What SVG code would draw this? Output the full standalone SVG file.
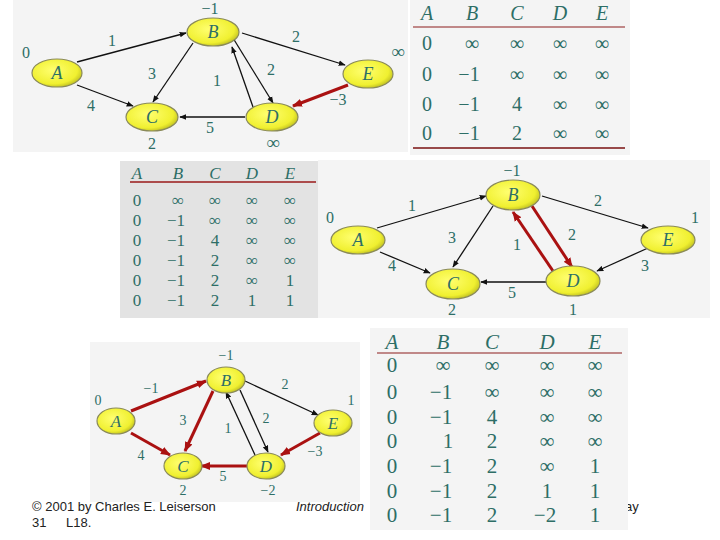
<svg xmlns="http://www.w3.org/2000/svg" width="720" height="540" viewBox="0 0 720 540">
<defs>
<radialGradient id="ng" cx="0.42" cy="0.4" r="0.65">
<stop offset="0" stop-color="#ffff70"/>
<stop offset="0.75" stop-color="#f0f030"/>
<stop offset="1" stop-color="#b8b820"/>
</radialGradient>
<marker id="ab" viewBox="0 0 10 10" refX="9" refY="5" markerWidth="7" markerHeight="7" orient="auto" markerUnits="userSpaceOnUse"><path d="M0,1 L10,5 L0,9 Z" fill="#111"/></marker>
<marker id="ar" viewBox="0 0 10 10" refX="9" refY="5" markerWidth="10" markerHeight="10" orient="auto" markerUnits="userSpaceOnUse"><path d="M0,1 L10,5 L0,9 Z" fill="#aa1111"/></marker>
</defs>
<style>
.bg{fill:#f4f4f4}
.bgd{fill:#e3e3e3}
.nd{fill:url(#ng);stroke:#8a8a5a;stroke-width:1.2}
.nl{font-family:"Liberation Serif",serif;font-style:italic;fill:#2d6e66;text-anchor:middle}
.el{font-family:"Liberation Serif",serif;fill:#2d6e66;text-anchor:middle}
.th{font-family:"Liberation Serif",serif;font-style:italic;fill:#2d6e66;text-anchor:middle}
.td{font-family:"Liberation Serif",serif;fill:#2d6e66;text-anchor:middle}
.k{stroke:#111;stroke-width:1.3;fill:none;marker-end:url(#ab)}
.r{stroke:#aa1111;stroke-width:3;fill:none;marker-end:url(#ar)}
.ft{font-family:"Liberation Sans",sans-serif;font-size:13px;fill:#222}
</style>

<g id="footer">
<text class="ft" x="32" y="511">© 2001 by Charles E. Leiserson</text>
<text class="ft" x="32" y="527">31</text>
<text class="ft" x="66" y="527">L18.</text>
<text class="ft" x="296" y="511" font-style="italic">Introduction</text>
<text class="ft" x="625" y="511">ay</text>
</g>

<!-- Top-left graph -->
<g id="graph1">
<rect class="bg" x="13" y="0" width="395" height="152"/>
<g id="g1-edges">
<line class="k" x1="77" y1="62" x2="186" y2="33"/>
<line class="k" x1="77" y1="85" x2="133" y2="106"/>
<line class="k" x1="193" y1="43" x2="153" y2="102"/>
<line class="k" x1="253" y1="107" x2="232" y2="47"/>
<line class="k" x1="233" y1="38" x2="273" y2="103"/>
<line class="k" x1="242" y1="33" x2="345" y2="65"/>
<line class="k" x1="245" y1="117" x2="180" y2="117"/>
<line class="r" x1="348" y1="85" x2="293" y2="106"/>
</g>
<g id="g1-A"><ellipse class="nd" cx="57" cy="73" rx="25" ry="14"/><text class="nl" x="57" y="79" font-size="18">A</text></g>
<g id="g1-B"><ellipse class="nd" cx="213" cy="32" rx="26" ry="14"/><text class="nl" x="213" y="38" font-size="18">B</text></g>
<g id="g1-C"><ellipse class="nd" cx="152" cy="117" rx="26" ry="14"/><text class="nl" x="152" y="123" font-size="18">C</text></g>
<g id="g1-D"><ellipse class="nd" cx="272" cy="117" rx="26" ry="14"/><text class="nl" x="272" y="123" font-size="18">D</text></g>
<g id="g1-E"><ellipse class="nd" cx="368" cy="74" rx="25" ry="14"/><text class="nl" x="368" y="80" font-size="18">E</text></g>
<g font-size="16">
<text class="el" x="26" y="58">0</text>
<text class="el" x="210" y="14">−1</text>
<text class="el" x="398" y="58" font-size="19">∞</text>
<text class="el" x="152" y="149">2</text>
<text class="el" x="273" y="149" font-size="19">∞</text>
<text class="el" x="112" y="46">1</text>
<text class="el" x="296" y="42">2</text>
<text class="el" x="152" y="79">3</text>
<text class="el" x="217" y="86">1</text>
<text class="el" x="271" y="75">2</text>
<text class="el" x="91" y="111">4</text>
<text class="el" x="210" y="133">5</text>
<text class="el" x="338" y="105">−3</text>
</g>
</g>

<!-- Top-right table -->
<g id="table1">
<rect class="bg" x="410" y="0" width="220" height="155"/>
<g font-size="20">
<text class="th" x="427" y="20">A</text><text class="th" x="472" y="20">B</text><text class="th" x="517" y="20">C</text><text class="th" x="560" y="20">D</text><text class="th" x="602" y="20">E</text>
</g>
<line x1="413" y1="27" x2="625" y2="27" stroke="#c08888" stroke-width="2"/>
<g font-size="20">
<text class="td" x="427" y="50">0</text><text class="td" x="472" y="50">∞</text><text class="td" x="517" y="50">∞</text><text class="td" x="560" y="50">∞</text><text class="td" x="602" y="50">∞</text>
<text class="td" x="427" y="81">0</text><text class="td" x="469" y="81">−1</text><text class="td" x="517" y="81">∞</text><text class="td" x="560" y="81">∞</text><text class="td" x="602" y="81">∞</text>
<text class="td" x="427" y="111">0</text><text class="td" x="469" y="111">−1</text><text class="td" x="517" y="111">4</text><text class="td" x="560" y="111">∞</text><text class="td" x="602" y="111">∞</text>
<text class="td" x="427" y="140">0</text><text class="td" x="469" y="140">−1</text><text class="td" x="517" y="140">2</text><text class="td" x="560" y="140">∞</text><text class="td" x="602" y="140">∞</text>
</g>
<line x1="413" y1="148" x2="625" y2="148" stroke="#7a1010" stroke-width="1.5"/>
</g>

<!-- Middle-left table -->
<g id="table2">
<rect class="bgd" x="120" y="161" width="198" height="157"/>
<g font-size="17">
<text class="th" x="137" y="179">A</text><text class="th" x="178" y="179">B</text><text class="th" x="215" y="179">C</text><text class="th" x="252" y="179">D</text><text class="th" x="290" y="179">E</text>
</g>
<line x1="130" y1="182" x2="316" y2="182" stroke="#9a1a1a" stroke-width="1.5"/>
<g font-size="17">
<text class="td" x="137" y="206">0</text><text class="td" x="178" y="206">∞</text><text class="td" x="215" y="206">∞</text><text class="td" x="252" y="206">∞</text><text class="td" x="290" y="206">∞</text>
<text class="td" x="137" y="226">0</text><text class="td" x="176" y="226">−1</text><text class="td" x="215" y="226">∞</text><text class="td" x="252" y="226">∞</text><text class="td" x="290" y="226">∞</text>
<text class="td" x="137" y="246">0</text><text class="td" x="176" y="246">−1</text><text class="td" x="215" y="246">4</text><text class="td" x="252" y="246">∞</text><text class="td" x="290" y="246">∞</text>
<text class="td" x="137" y="266">0</text><text class="td" x="176" y="266">−1</text><text class="td" x="215" y="266">2</text><text class="td" x="252" y="266">∞</text><text class="td" x="290" y="266">∞</text>
<text class="td" x="137" y="286">0</text><text class="td" x="176" y="286">−1</text><text class="td" x="215" y="286">2</text><text class="td" x="252" y="286">∞</text><text class="td" x="290" y="286">1</text>
<text class="td" x="137" y="306">0</text><text class="td" x="176" y="306">−1</text><text class="td" x="215" y="306">2</text><text class="td" x="252" y="306">1</text><text class="td" x="290" y="306">1</text>
</g>
</g>

<!-- Middle-right graph -->
<g id="graph2">
<rect class="bg" x="318" y="160" width="392" height="158"/>
<g id="g2-edges">
<line class="k" x1="377" y1="228" x2="486" y2="196"/>
<line class="k" x1="380" y1="252" x2="430" y2="273"/>
<line class="k" x1="493" y1="206" x2="453" y2="267"/>
<line class="r" x1="553" y1="271" x2="513" y2="212"/>
<line class="r" x1="532" y1="206" x2="572" y2="267"/>
<line class="k" x1="542" y1="196" x2="648" y2="228"/>
<line class="k" x1="547" y1="282" x2="481" y2="282"/>
<line class="k" x1="648" y1="248" x2="597" y2="271"/>
</g>
<g id="g2-A"><ellipse class="nd" cx="358" cy="240" rx="27" ry="14"/><text class="nl" x="358" y="246" font-size="18">A</text></g>
<g id="g2-B"><ellipse class="nd" cx="513" cy="195" rx="27" ry="15"/><text class="nl" x="513" y="201" font-size="18">B</text></g>
<g id="g2-C"><ellipse class="nd" cx="453" cy="284" rx="27" ry="15"/><text class="nl" x="453" y="290" font-size="18">C</text></g>
<g id="g2-D"><ellipse class="nd" cx="573" cy="281" rx="27" ry="15"/><text class="nl" x="573" y="287" font-size="18">D</text></g>
<g id="g2-E"><ellipse class="nd" cx="668" cy="240" rx="27" ry="14"/><text class="nl" x="668" y="246" font-size="18">E</text></g>
<g font-size="16">
<text class="el" x="330" y="223">0</text>
<text class="el" x="512" y="176">−1</text>
<text class="el" x="695" y="223">1</text>
<text class="el" x="452" y="315">2</text>
<text class="el" x="573" y="315">1</text>
<text class="el" x="412" y="211">1</text>
<text class="el" x="598" y="206">2</text>
<text class="el" x="452" y="243">3</text>
<text class="el" x="517" y="250">1</text>
<text class="el" x="572" y="240">2</text>
<text class="el" x="392" y="271">4</text>
<text class="el" x="512" y="298">5</text>
<text class="el" x="645" y="271">3</text>
</g>
</g>

<!-- Bottom-left graph -->
<g id="graph3">
<rect class="bg" x="90" y="342" width="270" height="160"/>
<g id="g3-edges">
<line class="r" x1="131" y1="411" x2="206" y2="381"/>
<line class="r" x1="131" y1="433" x2="170" y2="455"/>
<line class="r" x1="213" y1="391" x2="185" y2="451"/>
<line class="k" x1="255" y1="455" x2="226" y2="392"/>
<line class="k" x1="240" y1="390" x2="268" y2="452"/>
<line class="k" x1="245" y1="381" x2="318" y2="415"/>
<line class="r" x1="248" y1="466" x2="201" y2="466"/>
<line class="r" x1="320" y1="433" x2="281" y2="455"/>
</g>
<g id="g3-A"><ellipse class="nd" cx="116" cy="421" rx="19" ry="13"/><text class="nl" x="116" y="427" font-size="17">A</text></g>
<g id="g3-B"><ellipse class="nd" cx="226" cy="380" rx="19" ry="13"/><text class="nl" x="226" y="386" font-size="17">B</text></g>
<g id="g3-C"><ellipse class="nd" cx="183" cy="466" rx="19" ry="13"/><text class="nl" x="183" y="472" font-size="17">C</text></g>
<g id="g3-D"><ellipse class="nd" cx="266" cy="466" rx="19" ry="13"/><text class="nl" x="266" y="472" font-size="17">D</text></g>
<g id="g3-E"><ellipse class="nd" cx="333" cy="423" rx="19" ry="13"/><text class="nl" x="333" y="429" font-size="17">E</text></g>
<g font-size="14">
<text class="el" x="98" y="405">0</text>
<text class="el" x="226" y="360">−1</text>
<text class="el" x="351" y="405">1</text>
<text class="el" x="183" y="495">2</text>
<text class="el" x="268" y="495">−2</text>
<text class="el" x="151" y="393">−1</text>
<text class="el" x="285" y="389">2</text>
<text class="el" x="183" y="425">3</text>
<text class="el" x="228" y="433">1</text>
<text class="el" x="266" y="423">2</text>
<text class="el" x="141" y="460">4</text>
<text class="el" x="223" y="481">5</text>
<text class="el" x="315" y="456">−3</text>
</g>
</g>

<!-- Bottom-right table -->
<g id="table3">
<rect class="bg" x="370" y="328" width="258" height="202"/>
<g font-size="21">
<text class="th" x="392" y="349">A</text><text class="th" x="443" y="349">B</text><text class="th" x="492" y="349">C</text><text class="th" x="547" y="349">D</text><text class="th" x="595" y="349">E</text>
</g>
<line x1="377" y1="353" x2="622" y2="353" stroke="#c08888" stroke-width="2"/>
<g font-size="21">
<text class="td" x="392" y="372">0</text><text class="td" x="443" y="372">∞</text><text class="td" x="492" y="372">∞</text><text class="td" x="547" y="372">∞</text><text class="td" x="595" y="372">∞</text>
<text class="td" x="392" y="399">0</text><text class="td" x="441" y="399">−1</text><text class="td" x="492" y="399">∞</text><text class="td" x="547" y="399">∞</text><text class="td" x="595" y="399">∞</text>
<text class="td" x="392" y="424">0</text><text class="td" x="441" y="424">−1</text><text class="td" x="492" y="424">4</text><text class="td" x="547" y="424">∞</text><text class="td" x="595" y="424">∞</text>
<text class="td" x="392" y="448">0</text><text class="td" x="448" y="448">1</text><text class="td" x="492" y="448">2</text><text class="td" x="547" y="448">∞</text><text class="td" x="595" y="448">∞</text>
<text class="td" x="392" y="473">0</text><text class="td" x="441" y="473">−1</text><text class="td" x="492" y="473">2</text><text class="td" x="547" y="473">∞</text><text class="td" x="595" y="473">1</text>
<text class="td" x="392" y="498">0</text><text class="td" x="441" y="498">−1</text><text class="td" x="492" y="498">2</text><text class="td" x="547" y="498">1</text><text class="td" x="595" y="498">1</text>
<text class="td" x="392" y="522">0</text><text class="td" x="441" y="522">−1</text><text class="td" x="492" y="522">2</text><text class="td" x="545" y="522">−2</text><text class="td" x="595" y="522">1</text>
</g>
</g>
</svg>
